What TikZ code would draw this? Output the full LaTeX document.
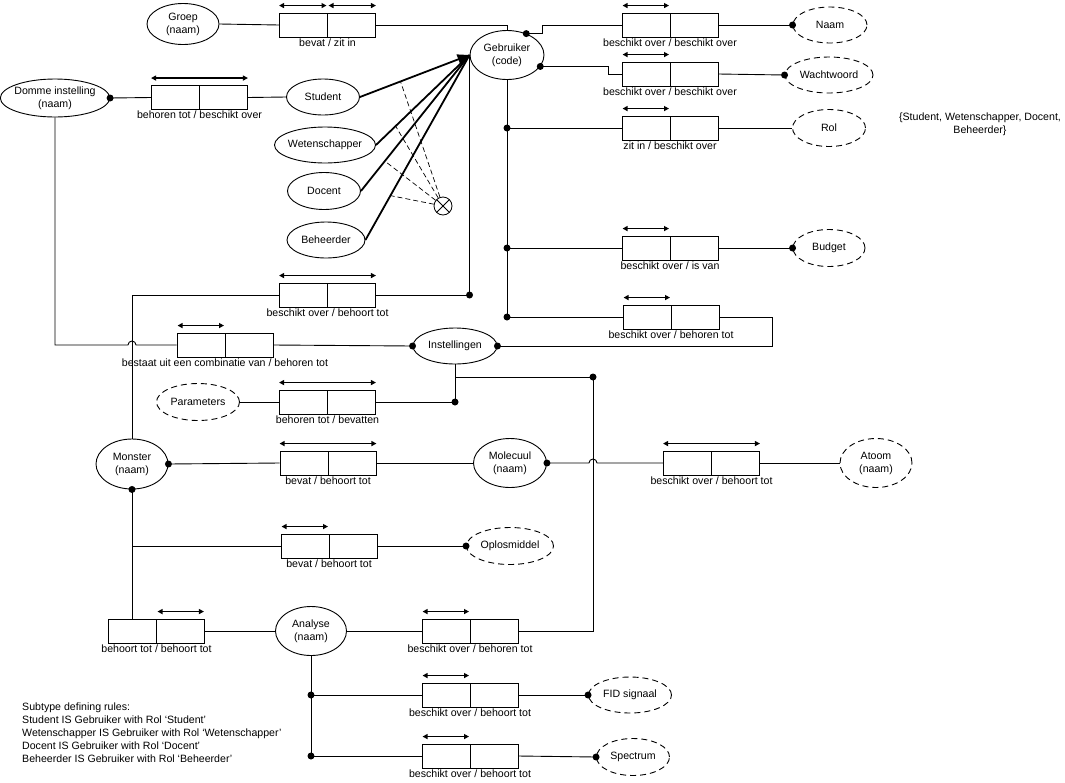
\documentclass[tikz,border=0pt]{standalone}
\usepackage{fontspec}
\setmainfont{Liberation Sans}
\usetikzlibrary{arrows.meta,positioning,calc,shapes.geometric}
\tikzset{
    ent/.style={ellipse, draw, line width=0.9pt, inner sep=-2pt, align=center, minimum width=72pt, minimum height=37pt},
    val/.style={ent, dash pattern=on 6pt off 4pt},
    fact/.style={draw, line width=0.9pt, minimum width=96pt, minimum height=24pt, inner sep=0pt,
        path picture={\draw[line width=0.9pt] (path picture bounding box.north) -- (path picture bounding box.south);}},
    uc/.style={{Triangle[length=5pt,width=5pt]}-{Triangle[length=5pt,width=5pt]}, line width=1.3pt},
    conn/.style={line width=0.9pt},
    sub/.style={line width=1.8pt},
    excl/.style={circle, draw, line width=0.8pt, minimum size=18pt, inner sep=0pt,
        path picture={\draw[line width=0.8pt] (path picture bounding box.north west) -- (path picture bounding box.south east)
            (path picture bounding box.south west) -- (path picture bounding box.north east);}},
    every label/.style={inner sep=1pt}
}

\begin{document}
\begin{tikzpicture}[x=1pt, y=-1pt, every node/.style={font=\fontsize{10.6}{13}\selectfont}]
  \useasboundingbox (0,0) rectangle (1065,782);

  % Entity types
  \node[ent, minimum width=72pt, minimum height=41pt] (groep) at (183,24) {Groep\\(naam)};
  \node[ent, minimum width=74pt, minimum height=49pt] (gebr) at (507,55) {Gebruiker\\(code)};
  \node[ent, minimum width=108pt, minimum height=38pt] (domme) at (55,98) {Domme instelling\\(naam)};
  \node[ent, minimum width=73pt, minimum height=36pt] (stud) at (323,97) {Student};
  \node[ent, minimum width=101pt, minimum height=36pt] (wet) at (325,145) {Wetenschapper};
  \node[ent, minimum width=73pt, minimum height=37pt] (doc) at (324,191) {Docent};
  \node[ent, minimum width=78pt, minimum height=36pt] (beh) at (326,240) {Beheerder};
  \node[ent, minimum width=84pt, minimum height=36pt] (inst) at (455,346) {Instellingen};
  \node[ent, minimum width=72pt, minimum height=50pt] (monster) at (132,464) {Monster\\(naam)};
  \node[ent, minimum width=73pt, minimum height=49pt] (molec) at (510,463) {Molecuul\\(naam)};
  \node[ent, minimum width=71pt, minimum height=49pt] (analyse) at (311,631) {Analyse\\(naam)};
  \node[excl] (xor) at (443,206) {};

  % Value types
  \node[val, minimum width=74pt, minimum height=36pt] (naam) at (830,25) {Naam};
  \node[val, minimum width=88pt, minimum height=36pt] (wacht) at (829,75) {Wachtwoord};
  \node[val, minimum width=73pt, minimum height=37pt] (rol) at (829,128) {Rol};
  \node[val, minimum width=72pt, minimum height=37pt] (budget) at (829,248) {Budget};
  \node[val, minimum width=83pt, minimum height=37pt] (param) at (198,402) {Parameters};
  \node[val, minimum width=72pt, minimum height=49pt] (atoom) at (876,463) {Atoom\\(naam)};
  \node[val, minimum width=87pt, minimum height=37pt] (oplos) at (510,546) {Oplosmiddel};
  \node[val, minimum width=83pt, minimum height=36pt] (fid) at (630,695) {FID signaal};
  \node[val, minimum width=73pt, minimum height=37pt] (spec) at (633,757) {Spectrum};

  % Fact types
  \node[fact, label=below:bevat / zit in] (fgroep) at (327.5,25) {};
  \node[fact, label=below:beschikt over / beschikt over] (fnaam) at (670,25) {};
  \node[fact, label=below:beschikt over / beschikt over] (fwacht) at (670,74) {};
  \node[fact, label=below:zit in / beschikt over] (frol) at (670,128) {};
  \node[fact, label=below:beschikt over / is van] (fbudget) at (670,248) {};
  \node[fact, label=below:beschikt over / behoren tot] (finst) at (671,317) {};
  \node[fact, label=below:behoren tot / beschikt over] (fdomme) at (199.5,97.5) {};
  \node[fact, label=below:beschikt over / behoort tot] (fmon) at (327.5,295) {};
  \node[fact, label=below:bestaat uit een combinatie van / behoren tot] (fbestaat) at (225,345) {};
  \node[fact, label=below:behoren tot / bevatten] (fparam) at (327.5,402) {};
  \node[fact, label=below:bevat / behoort tot] (fmolec) at (328,463) {};
  \node[fact, label=below:beschikt over / behoort tot] (fatoom) at (711.5,463) {};
  \node[fact, label=below:bevat / behoort tot] (foplos) at (329,546) {};
  \node[fact, label=below:behoort tot / behoort tot] (fanal1) at (156.5,631) {};
  \node[fact, label=below:beschikt over / behoren tot] (fanal2) at (470,631) {};
  \node[fact, label=below:beschikt over / behoort tot] (ffid) at (470,695) {};
  \node[fact, label=below:beschikt over / behoort tot] (fspec) at (470,756) {};

  % Uniqueness constraints
  \draw[uc] ([yshift=7pt]fgroep.north west) -- ([xshift=-1pt,yshift=7pt]fgroep.north);
  \draw[uc] ([xshift=1pt,yshift=7pt]fgroep.north) -- ([yshift=7pt]fgroep.north east);
  \foreach \f in {fnaam,fwacht,frol,fbudget,finst,fbestaat,foplos,fanal2,ffid,fspec}
    \draw[uc] ([xshift=1pt,yshift=7pt]\f.north west) -- ([xshift=-1pt,yshift=7pt]\f.north);
  \foreach \f in {fdomme,fmon,fparam,fmolec,fatoom}
    \draw[uc] ([yshift=7pt]\f.north west) -- ([yshift=7pt]\f.north east);
  \draw[uc] ([xshift=1pt,yshift=7pt]fanal1.north) -- ([xshift=-1pt,yshift=7pt]fanal1.north east);

  % Gebruiker
  \draw[conn] (groep.east) -- (fgroep.west);
  \draw[conn] (fgroep.east) -| (gebr.north);
  \draw[conn] (gebr.48) -- ++(16,0) |- (fnaam.west);
  \draw[conn] (fnaam.east) -- (naam.west);
  \draw[conn] (gebr.-19) -- ++(68,0) |- (fwacht.west);
  \draw[conn] (fwacht.east) -- (wacht.west);
  \draw[conn] (gebr.south) |- (finst.west);
  \draw[conn] (gebr.south |- frol.west) -- (frol.west);
  \draw[conn] (frol.east) -- (rol.west);
  \draw[conn] (gebr.south |- fbudget.west) -- (fbudget.west);
  \draw[conn] (fbudget.east) -- (budget.west);
  \draw[conn] (finst.east) -- ++(53,0) |- (inst.east);

  % Subtypes
  \draw[sub, -{Triangle[length=12pt,width=10pt]}] (stud.east) -- (gebr.west);
  \foreach \s in {wet,doc,beh}
    \draw[sub] (\s.east) -- (gebr.west);
  \path (stud.east) -- coordinate[pos=0.37] (xs) (gebr.west);
  \path (wet.east) -- coordinate[pos=0.21] (xw) (gebr.west);
  \path (doc.east) -- coordinate[pos=0.22] (xd) (gebr.west);
  \path (beh.east) -- coordinate[pos=0.24] (xb) (gebr.west);
  \foreach \p in {xs,xw,xd,xb}
    \draw[line width=0.7pt, dash pattern=on 5pt off 3pt] (xor) -- (\p);

  % Domme instelling, Monster
  \draw[conn] (domme.east) -- (fdomme.west);
  \draw[conn] (fdomme.east) -- (stud.west);
  \draw[conn] (domme.south) |- ($(monster.north |- fbestaat.west)+(-4,0)$)
    arc[start angle=180, end angle=0, radius=4pt] -- (fbestaat.west);
  \draw[conn] (fbestaat.east) -- (inst.west);
  \draw[conn] (fmon.west) -| (monster.north);
  \draw[conn] (fmon.east) -| (gebr.west);

  % Instellingen
  \coordinate (jn) at (593,377);
  \draw[conn] (inst.south) |- (fparam.east);
  \draw[conn] (fparam.west) -- (param.east);
  \draw[conn] (inst.south |- jn) -- (jn) |- (fanal2.east);

  % Molecuul
  \draw[conn] (monster.east) -- (fmolec.west);
  \draw[conn] (fmolec.east) -- (molec.west);
  \draw[conn] (molec.east) -- ($(jn |- molec.east)+(-4,0)$)
    arc[start angle=180, end angle=0, radius=4pt] -- (fatoom.west);
  \draw[conn] (fatoom.east) -- (atoom.west);

  % Monster, Analyse
  \draw[conn] (monster.south) -- (monster.south |- fanal1.north);
  \draw[conn] (monster.south |- foplos.west) -- (foplos.west);
  \draw[conn] (foplos.east) -- (oplos.west);
  \draw[conn] (fanal1.east) -- (analyse.west);
  \draw[conn] (analyse.east) -- (fanal2.west);
  \draw[conn] (analyse.south) |- (fspec.west);
  \draw[conn] (analyse.south |- ffid.west) -- (ffid.west);
  \draw[conn] (ffid.east) -- (fid.west);
  \draw[conn] (fspec.east) -- (spec.west);

  % Mandatory role dots
  \foreach \d in {gebr.48, gebr.-19, naam.west, wacht.west, budget.west, domme.east, inst.west, inst.east,
      monster.east, monster.south, molec.east, oplos.west, fid.west, spec.west, jn}
    \fill (\d) circle[radius=3.5pt];
  \fill (gebr.south |- frol.west) circle[radius=3.5pt] (gebr.south |- fbudget.west) circle[radius=3.5pt]
    (gebr.south |- finst.west) circle[radius=3.5pt] (gebr.west |- fmon.east) circle[radius=3.5pt]
    (inst.south |- fparam.east) circle[radius=3.5pt] (analyse.south |- ffid.west) circle[radius=3.5pt]
    (analyse.south |- fspec.west) circle[radius=3.5pt];

  % Notes
  \node[align=center] (rolvals) at (980,124) {\{Student, Wetenschapper, Docent,\\Beheerder\}};
  \node[anchor=north west, align=left, inner sep=0pt, font=\fontsize{10.6}{12.8}\selectfont] (rules) at (22,703)
    {Subtype defining rules:\\
     Student IS Gebruiker with Rol `Student'\\
     Wetenschapper IS Gebruiker with Rol `Wetenschapper'\\
     Docent IS Gebruiker with Rol `Docent'\\
     Beheerder IS Gebruiker with Rol `Beheerder'};
\end{tikzpicture}
\end{document}
